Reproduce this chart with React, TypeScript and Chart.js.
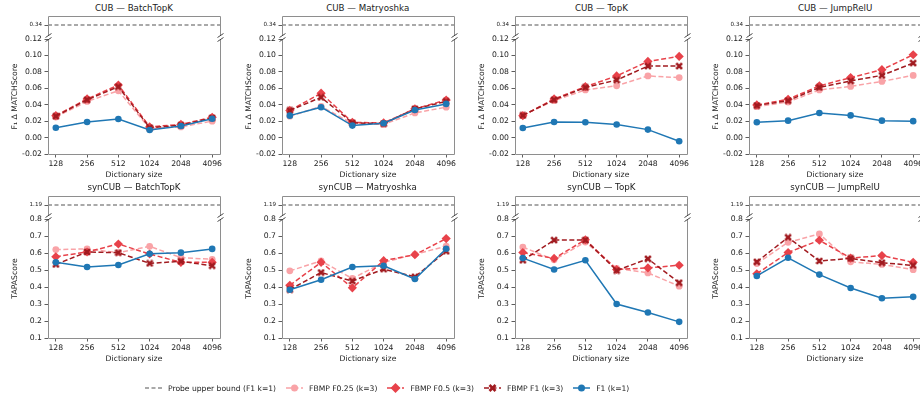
import React, { useEffect, useRef } from "react";
import { Chart, registerables } from "chart.js";
Chart.register(...registerables);

const FONT = "'DejaVu Sans', sans-serif";

// ---------- data ----------
const dictSizes = ["128", "256", "512", "1024", "2048", "4096"];
const cubTicks = [-0.02, 0.0, 0.02, 0.04, 0.06, 0.08, 0.1, 0.12];
const synTicks = [0.1, 0.2, 0.3, 0.4, 0.5, 0.6, 0.7, 0.8];
const cubProbe = 0.34;
const synProbe = 1.19;

const cubBatchTopK_F025 = [0.025, 0.044, 0.057, 0.011, 0.013, 0.020];
const cubBatchTopK_F05 = [0.0267, 0.047, 0.064, 0.013, 0.016, 0.0247];
const cubBatchTopK_FB1 = [0.026, 0.046, 0.062, 0.012, 0.015, 0.024];
const cubBatchTopK_F1 = [0.012, 0.019, 0.0227, 0.0093, 0.014, 0.023];

const cubMatryoshka_F025 = [0.026, 0.038, 0.017, 0.016, 0.030, 0.037];
const cubMatryoshka_F05 = [0.033, 0.054, 0.0186, 0.0178, 0.035, 0.0457];
const cubMatryoshka_FB1 = [0.033, 0.049, 0.018, 0.017, 0.035, 0.044];
const cubMatryoshka_F1 = [0.0267, 0.037, 0.0146, 0.0174, 0.0336, 0.041];

const cubTopK_F025 = [0.027, 0.045, 0.058, 0.063, 0.075, 0.073];
const cubTopK_F05 = [0.0267, 0.047, 0.062, 0.075, 0.0927, 0.0988];
const cubTopK_FB1 = [0.027, 0.046, 0.061, 0.070, 0.087, 0.087];
const cubTopK_F1 = [0.0117, 0.019, 0.0186, 0.016, 0.0097, -0.0045];

const cubJumpReLU_F025 = [0.0377, 0.0433, 0.058, 0.0623, 0.0684, 0.0757];
const cubJumpReLU_F05 = [0.0397, 0.0466, 0.063, 0.073, 0.0826, 0.1008];
const cubJumpReLU_FB1 = [0.039, 0.045, 0.061, 0.069, 0.0757, 0.0907];
const cubJumpReLU_F1 = [0.0186, 0.0206, 0.030, 0.027, 0.0206, 0.020];

const synBatchTopK_F025 = [0.62, 0.624, 0.602, 0.639, 0.573, 0.563];
const synBatchTopK_F05 = [0.578, 0.606, 0.653, 0.594, 0.545, 0.545];
const synBatchTopK_FB1 = [0.533, 0.606, 0.602, 0.539, 0.551, 0.525];
const synBatchTopK_F1 = [0.545, 0.518, 0.529, 0.596, 0.602, 0.624];

const synMatryoshka_F025 = [0.495, 0.553, 0.45, 0.545, 0.592, 0.64];
const synMatryoshka_F05 = [0.41, 0.545, 0.395, 0.555, 0.59, 0.685];
const synMatryoshka_FB1 = [0.385, 0.485, 0.435, 0.505, 0.46, 0.61];
const synMatryoshka_F1 = [0.384, 0.443, 0.518, 0.525, 0.447, 0.625];

const synTopK_F025 = [0.635, 0.56, 0.664, 0.51, 0.483, 0.405];
const synTopK_F05 = [0.603, 0.568, 0.678, 0.503, 0.512, 0.528];
const synTopK_FB1 = [0.557, 0.676, 0.676, 0.497, 0.566, 0.425];
const synTopK_F1 = [0.57, 0.503, 0.557, 0.30, 0.25, 0.195];

const synJumpReLU_F025 = [0.538, 0.663, 0.712, 0.548, 0.533, 0.502];
const synJumpReLU_F05 = [0.478, 0.603, 0.675, 0.57, 0.585, 0.545];
const synJumpReLU_FB1 = [0.548, 0.692, 0.553, 0.568, 0.543, 0.527];
const synJumpReLU_F1 = [0.465, 0.572, 0.473, 0.394, 0.334, 0.342];

const seriesLabels = ["Probe upper bound (F1 k=1)", "FBMP F0.25 (k=3)", "FBMP F0.5 (k=3)", "FBMP F1 (k=3)", "F1 (k=1)"];

// ---------- styles ----------
const C_PROBE = "#555555";
const C_F025 = "#f9a3a7";
const C_F05 = "#e8424a";
const C_FB1 = "#a11b20";
const C_F1 = "#1f77b4";
const SPINE = "#8e8e8e";
const TXT = "#222222";

type PanelCfg = {
  title: string;
  probe: number;
  ticks: number[];
  ylabel: string;
  digits: number;
  f025: number[];
  f05: number[];
  fb1: number[];
  f1: number[];
};

const CUB_Y = "F\u2081 \u0394 MATCHScore";
const SYN_Y = "TAPAScore";

const panels: PanelCfg[] = [
  { title: "CUB \u2014 BatchTopK", probe: cubProbe, ticks: cubTicks, ylabel: CUB_Y, digits: 2, f025: cubBatchTopK_F025, f05: cubBatchTopK_F05, fb1: cubBatchTopK_FB1, f1: cubBatchTopK_F1 },
  { title: "CUB \u2014 Matryoshka", probe: cubProbe, ticks: cubTicks, ylabel: CUB_Y, digits: 2, f025: cubMatryoshka_F025, f05: cubMatryoshka_F05, fb1: cubMatryoshka_FB1, f1: cubMatryoshka_F1 },
  { title: "CUB \u2014 TopK", probe: cubProbe, ticks: cubTicks, ylabel: CUB_Y, digits: 2, f025: cubTopK_F025, f05: cubTopK_F05, fb1: cubTopK_FB1, f1: cubTopK_F1 },
  { title: "CUB \u2014 JumpRelU", probe: cubProbe, ticks: cubTicks, ylabel: CUB_Y, digits: 2, f025: cubJumpReLU_F025, f05: cubJumpReLU_F05, fb1: cubJumpReLU_FB1, f1: cubJumpReLU_F1 },
  { title: "synCUB \u2014 BatchTopK", probe: synProbe, ticks: synTicks, ylabel: SYN_Y, digits: 1, f025: synBatchTopK_F025, f05: synBatchTopK_F05, fb1: synBatchTopK_FB1, f1: synBatchTopK_F1 },
  { title: "synCUB \u2014 Matryoshka", probe: synProbe, ticks: synTicks, ylabel: SYN_Y, digits: 1, f025: synMatryoshka_F025, f05: synMatryoshka_F05, fb1: synMatryoshka_FB1, f1: synMatryoshka_F1 },
  { title: "synCUB \u2014 TopK", probe: synProbe, ticks: synTicks, ylabel: SYN_Y, digits: 1, f025: synTopK_F025, f05: synTopK_F05, fb1: synTopK_FB1, f1: synTopK_F1 },
  { title: "synCUB \u2014 JumpRelU", probe: synProbe, ticks: synTicks, ylabel: SYN_Y, digits: 1, f025: synJumpReLU_F025, f05: synJumpReLU_F05, fb1: synJumpReLU_FB1, f1: synJumpReLU_F1 },
];

// ---------- helpers ----------
function makeXMarker(color: string, size: number): HTMLCanvasElement {
  const c = document.createElement("canvas");
  c.width = size;
  c.height = size;
  const ctx = c.getContext("2d")!;
  ctx.strokeStyle = color;
  ctx.lineWidth = size * 0.32;
  ctx.lineCap = "butt";
  const m = size * 0.14;
  ctx.beginPath();
  ctx.moveTo(m, m);
  ctx.lineTo(size - m, size - m);
  ctx.moveTo(size - m, m);
  ctx.lineTo(m, size - m);
  ctx.stroke();
  return c;
}

const spinePlugin = {
  id: "spines",
  afterDraw(chart: any, _args: any, opts: any) {
    const { ctx, chartArea: a } = chart;
    const l = Math.round(a.left) + 0.5;
    const r = Math.round(a.right) + 0.5;
    const t = Math.round(a.top) + 0.5;
    const b = Math.round(a.bottom) + 0.5;
    ctx.save();
    ctx.strokeStyle = SPINE;
    ctx.lineWidth = 1;
    ctx.beginPath();
    if (opts.part === "main") {
      ctx.moveTo(l, t);
      ctx.lineTo(l, b);
      ctx.lineTo(r, b);
      ctx.lineTo(r, t);
    } else {
      ctx.moveTo(l, b);
      ctx.lineTo(l, t);
      ctx.lineTo(r, t);
      ctx.lineTo(r, b);
    }
    ctx.stroke();
    const y = opts.part === "main" ? t : b;
    ctx.strokeStyle = "#333";
    ctx.lineWidth = 0.9;
    for (const x of [l, r]) {
      ctx.beginPath();
      ctx.moveTo(x - 3, y + 2);
      ctx.lineTo(x + 3, y - 2);
      ctx.stroke();
    }
    ctx.restore();
  },
};

const X_MIN = -0.25;
const X_MAX = 5.25;
const Y_AXIS_W = 45;
const RIGHT_PAD = 6;
const PANEL_W = 172;

const tickFont = { family: FONT, size: 7.7 };

function Panel({ cfg, col, row }: { cfg: PanelCfg; col: number; row: number }) {
  const mainRef = useRef<HTMLCanvasElement>(null);
  const topRef = useRef<HTMLCanvasElement>(null);

  const L = 48 + col * 233.7;
  const off = row === 0 ? 0 : 180;
  const boxTop = 16 + off;
  const topBottom = 35 + off;
  const mainTop = 39 + off;
  const mainBottom = row === 0 ? 154 : 338;
  const mainH = mainBottom - mainTop;

  useEffect(() => {
    const xMarker = makeXMarker(C_FB1, 8);
    const toPts = (arr: number[]) => arr.map((y, i) => ({ x: i, y }));
    const yMin = cfg.ticks[0];
    const yMax = cfg.ticks[cfg.ticks.length - 1];

    const main = new Chart(mainRef.current!, {
      type: "line",
      data: {
        datasets: [
          { label: seriesLabels[1], data: toPts(cfg.f025), borderColor: C_F025, backgroundColor: C_F025, borderDash: [5, 2.5], borderWidth: 1.5, pointStyle: "circle", pointRadius: 3.4, pointBorderWidth: 0, order: 4 },
          { label: seriesLabels[2], data: toPts(cfg.f05), borderColor: C_F05, backgroundColor: C_F05, borderDash: [5, 2.5], borderWidth: 1.5, pointStyle: "rectRot", pointRadius: 4.6, pointBorderWidth: 0, order: 3 },
          { label: seriesLabels[3], data: toPts(cfg.fb1), borderColor: C_FB1, backgroundColor: C_FB1, borderDash: [5, 2.5], borderWidth: 1.5, pointStyle: xMarker as any, pointRadius: 4, pointBorderWidth: 0, order: 2 },
          { label: seriesLabels[4], data: toPts(cfg.f1), borderColor: C_F1, backgroundColor: C_F1, borderWidth: 1.5, pointStyle: "circle", pointRadius: 3.3, pointBorderWidth: 0, order: 1 },
        ] as any,
      },
      options: {
        responsive: false,
        animation: false,
        devicePixelRatio: 1,
        events: [],
        layout: { padding: { top: 10, right: RIGHT_PAD, left: 0, bottom: 0 } },
        plugins: { legend: { display: false }, tooltip: { enabled: false }, spines: { part: "main" } } as any,
        scales: {
          x: {
            type: "linear",
            min: X_MIN,
            max: X_MAX,
            afterBuildTicks: (s: any) => {
              s.ticks = dictSizes.map((_, i) => ({ value: i }));
            },
            afterFit: (s: any) => {
              s.height = 30;
            },
            ticks: {
              autoSkip: false,
              maxRotation: 0,
              padding: 2,
              color: TXT,
              font: tickFont,
              callback: (v: any) => dictSizes[Math.round(Number(v))],
            },
            grid: { drawOnChartArea: false, drawTicks: true, tickLength: 3.5, color: "#333", lineWidth: 0.8 },
            border: { display: false },
            title: { display: true, text: "Dictionary size", color: TXT, font: tickFont, padding: { top: 0, bottom: 4.5 } },
          },
          y: {
            type: "linear",
            min: yMin,
            max: yMax,
            afterBuildTicks: (s: any) => {
              s.ticks = cfg.ticks.map((v) => ({ value: v }));
            },
            afterFit: (s: any) => {
              s.width = Y_AXIS_W;
            },
            ticks: {
              padding: 2.5,
              color: TXT,
              font: tickFont,
              callback: (v: any) => Number(v).toFixed(cfg.digits),
            },
            grid: { drawOnChartArea: false, drawTicks: true, tickLength: 3.5, color: "#333", lineWidth: 0.8 },
            border: { display: false },
            title: { display: true, text: cfg.ylabel, color: TXT, font: tickFont, padding: { top: 7, bottom: 0 } },
          },
        },
      } as any,
      plugins: [spinePlugin as any],
    });

    const span = 0.1;
    const top = new Chart(topRef.current!, {
      type: "line",
      data: {
        datasets: [
          {
            label: seriesLabels[0],
            data: [
              { x: X_MIN, y: cfg.probe },
              { x: X_MAX, y: cfg.probe },
            ],
            borderColor: C_PROBE,
            borderDash: [4, 2.5],
            borderWidth: 1.1,
            pointRadius: 0,
          },
        ] as any,
      },
      options: {
        responsive: false,
        animation: false,
        devicePixelRatio: 1,
        events: [],
        layout: { padding: { top: 8, right: RIGHT_PAD, left: 0, bottom: 8 } },
        plugins: { legend: { display: false }, tooltip: { enabled: false }, spines: { part: "top" } } as any,
        scales: {
          x: { type: "linear", min: X_MIN, max: X_MAX, display: false },
          y: {
            type: "linear",
            min: cfg.probe - (span * 10) / 19,
            max: cfg.probe + (span * 9) / 19,
            afterBuildTicks: (s: any) => {
              s.ticks = [{ value: cfg.probe }];
            },
            afterFit: (s: any) => {
              s.width = Y_AXIS_W;
            },
            ticks: {
              padding: 2.5,
              color: TXT,
              font: { family: FONT, size: 5.6 },
              callback: (v: any) => Number(v).toFixed(2),
            },
            grid: { drawOnChartArea: false, drawTicks: true, tickLength: 3.5, color: "#333", lineWidth: 0.8 },
            border: { display: false },
          },
        },
      } as any,
      plugins: [spinePlugin as any],
    });

    return () => {
      main.destroy();
      top.destroy();
    };
  }, [cfg]);

  const cw = Y_AXIS_W + PANEL_W + RIGHT_PAD;
  const titleCenter = row === 0 ? 8.5 : 187.5;

  return (
    <>
      <div
        style={{
          position: "absolute",
          left: L,
          width: PANEL_W,
          top: titleCenter - 6,
          height: 12,
          lineHeight: "12px",
          textAlign: "center",
          font: `8.7px ${FONT}`,
          color: TXT,
          whiteSpace: "nowrap",
        }}
      >
        {cfg.title}
      </div>
      <canvas
        ref={topRef}
        width={cw}
        height={8 + (topBottom - boxTop) + 8}
        style={{ position: "absolute", left: L - Y_AXIS_W, top: boxTop - 8 }}
      />
      <canvas
        ref={mainRef}
        width={cw}
        height={10 + mainH + 30}
        style={{ position: "absolute", left: L - Y_AXIS_W, top: mainTop - 10 }}
      />
    </>
  );
}

function LegendHandle({ idx }: { idx: number }) {
  const w = 17;
  const h = 12;
  const cy = h / 2;
  if (idx === 0) {
    return (
      <svg width={w} height={h}>
        <line x1={0} y1={cy} x2={w} y2={cy} stroke={C_PROBE} strokeWidth={1.1} strokeDasharray="4 2.5" />
      </svg>
    );
  }
  const color = [C_PROBE, C_F025, C_F05, C_FB1, C_F1][idx];
  const dashed = idx !== 4;
  const cx = w / 2;
  let marker: any = null;
  if (idx === 1 || idx === 4) marker = <circle cx={cx} cy={cy} r={3.5} fill={color} />;
  if (idx === 2) marker = <polygon points={`${cx - 5},${cy} ${cx},${cy - 5} ${cx + 5},${cy} ${cx},${cy + 5}`} fill={color} />;
  if (idx === 3)
    marker = (
      <g stroke={color} strokeWidth={2.6}>
        <line x1={cx - 3} y1={cy - 3} x2={cx + 3} y2={cy + 3} />
        <line x1={cx + 3} y1={cy - 3} x2={cx - 3} y2={cy + 3} />
      </g>
    );
  return (
    <svg width={w} height={h}>
      <line x1={0} y1={cy} x2={w} y2={cy} stroke={color} strokeWidth={1.5} strokeDasharray={dashed ? "5 2.5" : undefined} />
      {marker}
    </svg>
  );
}

export default function App() {
  return (
    <div style={{ position: "absolute", left: 0, top: 0, width: 920, height: 401, background: "#fff", overflow: "hidden" }}>
      {panels.map((p, i) => (
        <Panel key={i} cfg={p} col={i % 4} row={Math.floor(i / 4)} />
      ))}
      <div
        style={{
          position: "absolute",
          left: 145,
          top: 382,
          height: 12,
          display: "flex",
          alignItems: "center",
          font: `7.6px ${FONT}`,
          color: TXT,
          whiteSpace: "nowrap",
        }}
      >
        {seriesLabels.map((lab, i) => (
          <div key={i} style={{ display: "flex", alignItems: "center", marginRight: 10 }}>
            <LegendHandle idx={i} />
            <span style={{ marginLeft: 6 }}>{lab}</span>
          </div>
        ))}
      </div>
    </div>
  );
}
